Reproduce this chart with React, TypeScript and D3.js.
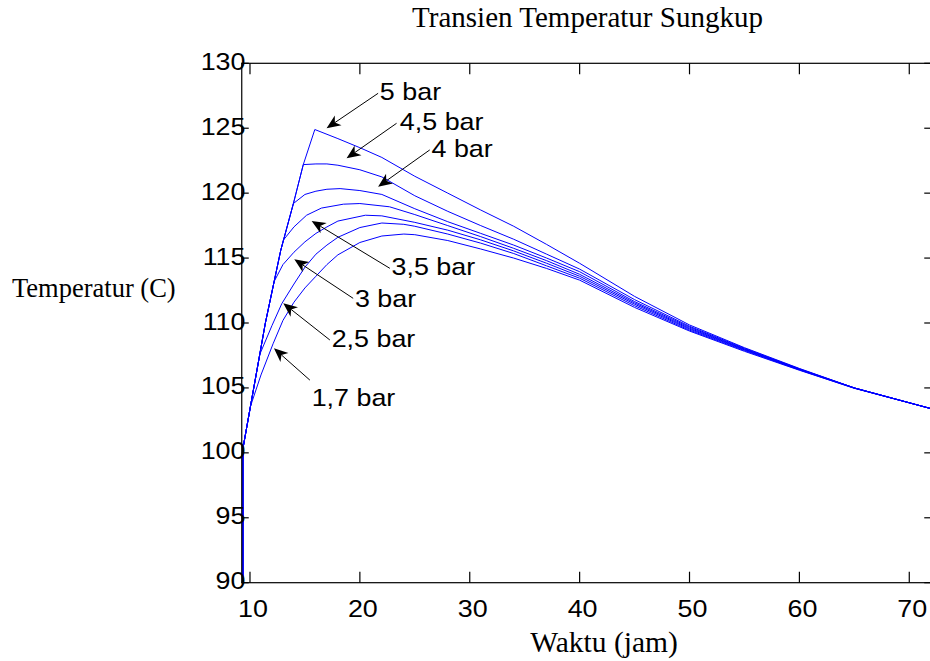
import React, { useRef, useEffect } from 'react';
import { select, scaleLinear, line } from 'd3';

// ticks
const xTicks = [10, 20, 30, 40, 50, 60, 70];
const yTicks = [90, 95, 100, 105, 110, 115, 120, 125, 130];

// [jam, suhu C], one array per pressure
const bar5: [number, number][] = [
  [9.35, 90], [9.35, 100.3], [10.3, 104.8], [11.4, 110.0], [12.2, 113.2], [12.8, 115.6], [13.95, 119.2], [14.85, 122.2], [15.9, 124.9],
  [18, 124.2], [20, 123.5], [22, 122.75], [25, 121.3], [28, 120.0], [31, 118.7], [34, 117.45], [37, 116.05], [40, 114.6],
  [45, 112.05], [50, 109.85], [55, 108.1], [60, 106.5], [65, 105.0], [72, 103.4],
];
const bar45: [number, number][] = [
  [9.35, 90], [9.35, 100.3], [10.3, 104.8], [11.4, 110.0], [12.2, 113.2], [12.8, 115.6], [13.95, 119.2], [14.85, 122.2],
  [16, 122.25], [17, 122.25], [18, 122.15], [20, 121.8], [22, 121.25], [25, 119.8], [28, 118.6], [31, 117.5], [34, 116.45],
  [37, 115.3], [40, 114.15], [45, 111.8], [50, 109.75], [55, 108.05], [60, 106.47], [65, 105.0], [72, 103.4],
];
const bar4: [number, number][] = [
  [9.35, 90], [9.35, 100.3], [10.3, 104.8], [11.4, 110.0], [12.2, 113.2], [12.8, 115.6], [13.95, 119.2],
  [15, 119.9], [16, 120.15], [17, 120.3], [18.2, 120.35], [20, 120.2], [22, 119.9], [25, 118.8], [28, 117.8], [31, 116.9],
  [34, 116.0], [37, 115.0], [40, 113.95], [45, 111.65], [50, 109.68], [55, 108.0], [60, 106.45], [65, 105.0], [72, 103.4],
];
const bar35: [number, number][] = [
  [9.35, 90], [9.35, 100.3], [10.3, 104.8], [11.4, 110.0], [12.2, 113.2], [12.8, 115.6], [13.05, 116.4],
  [14, 117.4], [15.15, 118.3], [16.5, 118.85], [18.5, 119.15], [20, 119.2], [22.7, 118.95], [25, 118.35], [28, 117.5],
  [31, 116.65], [34, 115.75], [37, 114.8], [40, 113.75], [45, 111.55], [50, 109.6], [55, 107.97], [60, 106.43], [65, 105.0], [72, 103.4],
];
const bar3: [number, number][] = [
  [9.35, 90], [9.35, 100.3], [10.3, 104.8], [11.4, 110.0], [12.2, 113.2],
  [13, 114.5], [14, 115.45], [15, 116.25], [16, 116.9], [17, 117.4], [18, 117.85], [20.5, 118.3], [22, 118.25], [25, 117.75],
  [28, 117.15], [31, 116.4], [34, 115.55], [37, 114.6], [40, 113.6], [45, 111.45], [50, 109.53], [55, 107.93], [60, 106.41],
  [65, 104.99], [72, 103.4],
];
const bar25: [number, number][] = [
  [9.35, 90], [9.35, 100.3], [10.3, 104.8], [10.9, 107.6],
  [12, 109.8], [12.9, 111.5], [14, 113.0], [15, 114.3], [16, 115.3], [17, 116.0], [18, 116.6], [20, 117.35], [22, 117.7],
  [24, 117.6], [25, 117.45], [28, 116.85], [31, 116.15], [34, 115.35], [37, 114.4], [40, 113.45], [45, 111.33], [50, 109.45],
  [55, 107.88], [60, 106.39], [65, 104.98], [72, 103.4],
];
const bar17: [number, number][] = [
  [9.35, 90], [9.35, 100.3], [10.05, 103.6],
  [11, 106.0], [12.1, 108.4], [13, 110.2], [14, 111.6], [15, 112.7], [16, 113.6], [17, 114.5], [18, 115.25], [20, 116.2],
  [22, 116.7], [24, 116.85], [25, 116.8], [28, 116.35], [31, 115.7], [34, 115.0], [37, 114.2], [40, 113.3], [45, 111.2],
  [50, 109.38], [55, 107.82], [60, 106.36], [65, 104.97], [72, 103.4],
];

// annotations (text anchor, arrow tip, arrow tail) in data units
const labels = ['5 bar', '4,5 bar', '4 bar', '3,5 bar', '3 bar', '2,5 bar', '1,7 bar'];
const labelHour = [21.82, 23.64, 26.52, 22.88, 19.55, 17.43, 15.61];
const labelTemp = [127.17, 124.86, 122.76, 113.7, 111.26, 108.17, 103.6];
const tipHour = [16.97, 18.79, 21.66, 15.61, 14.03, 13.03, 12.18];
const tipTemp = [125.0, 122.68, 120.5, 117.86, 114.9, 111.52, 108.05];
const tailHour = [21.66, 23.34, 26.36, 22.73, 19.39, 17.27, 15.45];
const tailTemp = [127.69, 125.38, 123.33, 114.21, 111.9, 108.69, 105.6];

const SANS = '"Liberation Sans", Arial, sans-serif';
const SERIF = '"Liberation Serif", "Times New Roman", serif';
const STRETCH = 1.12; // sans text in the figure is a bit wider than it is tall

const App = () => {
  const svgRef = useRef<SVGSVGElement>(null);

  useEffect(() => {
    const svg = select(svgRef.current);
    svg.selectAll('*').remove();

    const x = scaleLinear().domain([9.25, 72]).range([241.75, 931.25]);
    const y = scaleLinear().domain([90, 130]).range([582.7, 63.3]);
    const [x0, x1] = x.range();
    const [y0, y1] = y.range();

    svg.append('defs').append('clipPath').attr('id', 'plot-clip')
      .append('rect')
      .attr('x', x0).attr('y', y1)
      .attr('width', x1 - x0).attr('height', y0 - y1);

    // curves
    const lineGen = line<[number, number]>()
      .x(d => x(d[0]))
      .y(d => y(d[1]));
    svg.append('g')
      .attr('clip-path', 'url(#plot-clip)')
      .selectAll('path')
      .data([bar17, bar25, bar3, bar35, bar4, bar45, bar5])
      .join('path')
      .attr('d', lineGen)
      .attr('fill', 'none')
      .attr('stroke', '#0000ff')
      .attr('stroke-width', 1);

    // box + ticks (matlab style, inside)
    const axis = svg.append('g').attr('stroke', '#000').attr('stroke-width', 1.2);
    axis.append('rect')
      .attr('x', x0).attr('y', y1)
      .attr('width', x1 - x0).attr('height', y0 - y1)
      .attr('fill', 'none');
    xTicks.forEach(t => {
      axis.append('line').attr('x1', x(t)).attr('x2', x(t)).attr('y1', y0).attr('y2', y0 - 11);
      axis.append('line').attr('x1', x(t)).attr('x2', x(t)).attr('y1', y1).attr('y2', y1 + 11);
    });
    yTicks.forEach(t => {
      axis.append('line').attr('x1', x0).attr('x2', x0 + 7).attr('y1', y(t)).attr('y2', y(t));
      axis.append('line').attr('x1', x1).attr('x2', x1 - 7).attr('y1', y(t)).attr('y2', y(t));
    });

    // tick labels
    svg.append('g').selectAll('text')
      .data(xTicks)
      .join('text')
      .attr('transform', d => `translate(${x(d) + 3},${y0 + 34}) scale(${STRETCH},1)`)
      .attr('text-anchor', 'middle')
      .attr('font-family', SANS)
      .attr('font-size', 24)
      .text(d => d);
    svg.append('g').selectAll('text')
      .data(yTicks)
      .join('text')
      .attr('transform', d => `translate(245.5,${y(d) + 6.5}) scale(${STRETCH},1)`)
      .attr('text-anchor', 'end')
      .attr('font-family', SANS)
      .attr('font-size', 24)
      .text(d => d);

    // titles
    svg.append('text')
      .attr('x', 587.5).attr('y', 27)
      .attr('text-anchor', 'middle')
      .attr('font-family', SERIF).attr('font-size', 29)
      .text('Transien Temperatur Sungkup');
    svg.append('text')
      .attr('x', 604).attr('y', 652)
      .attr('text-anchor', 'middle')
      .attr('font-family', SERIF).attr('font-size', 29.5)
      .text('Waktu (jam)');
    svg.append('text')
      .attr('x', 12).attr('y', 297)
      .attr('font-family', SERIF).attr('font-size', 26.5)
      .text('Temperatur (C)');

    // arrows + labels
    const ann = svg.append('g');
    labels.forEach((lab, i) => {
      const tx = x(tipHour[i]), ty = y(tipTemp[i]);
      const sx = x(tailHour[i]), sy = y(tailTemp[i]);
      const ang = Math.atan2(ty - sy, tx - sx);
      const len = 14, hw = 6, notch = 10;
      const c = Math.cos(ang), s = Math.sin(ang);
      const bx = tx - len * c, by = ty - len * s;
      const nx = tx - notch * c, ny = ty - notch * s;
      ann.append('line')
        .attr('x1', sx).attr('y1', sy).attr('x2', nx).attr('y2', ny)
        .attr('stroke', '#000').attr('stroke-width', 1);
      ann.append('path')
        .attr('d', `M${tx},${ty}L${bx - hw * s},${by + hw * c}L${nx},${ny}L${bx + hw * s},${by - hw * c}Z`)
        .attr('fill', '#000');
      ann.append('text')
        .attr('transform', `translate(${x(labelHour[i])},${y(labelTemp[i])}) scale(${STRETCH},1)`)
        .attr('font-family', SANS).attr('font-size', 24)
        .text(lab);
    });
  }, []);

  return (
    <svg
      ref={svgRef}
      width={930}
      height={661}
      style={{ position: 'absolute', left: 0, top: 0, background: '#fff' }}
    />
  );
};

export default App;
